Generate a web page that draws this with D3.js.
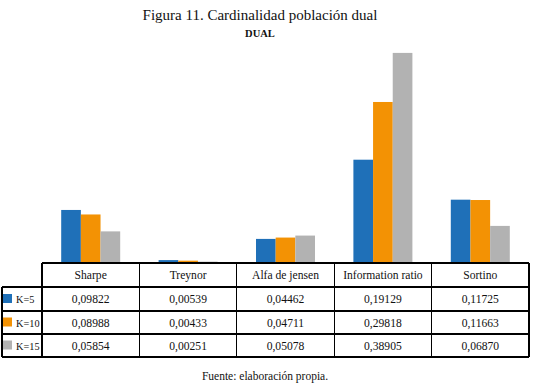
<!DOCTYPE html>
<html>
<head>
<meta charset="utf-8">
<style>
    body { margin: 0; background: #fff; }
    svg text { fill: #111; font-family: "Liberation Serif", "Times New Roman", serif; }
</style>
<script src="https://d3js.org/d3.v7.min.js"></script>
</head>
<body>
<div id="chart"></div>
<script>
    // data
    const categories = ['Sharpe', 'Treynor', 'Alfa de jensen', 'Information ratio', 'Sortino'];
    const seriesNames = ['K=5', 'K=10', 'K=15'];
    const k5  = [0.09822, 0.00539, 0.04462, 0.19129, 0.11725];
    const k10 = [0.08988, 0.00433, 0.04711, 0.29818, 0.11663];
    const k15 = [0.05854, 0.00251, 0.05078, 0.38905, 0.06870];
    const seriesValues = [k5, k10, k15];
    const colors = ['#1f70b8', '#f39204', '#b2b2b2'];

    const width = 536, height = 385;
    const fmt = v => d3.format('.5f')(v).replace('.', ',');

    const svg = d3.select('#chart').append('svg')
            .attr('width', width)
            .attr('height', height)
            .attr('font-family', '"Liberation Serif", serif');

    // titles
    svg.append('text')
            .attr('x', 260).attr('y', 20)
            .attr('text-anchor', 'middle')
            .style('font-size', '15px')
            .text('Figura 11. Cardinalidad población dual');
    svg.append('text')
            .attr('x', 260).attr('y', 37)
            .attr('text-anchor', 'middle')
            .style('font-size', '10.5px')
            .style('font-weight', 'bold')
            .text('DUAL');

    const tableLeft = 42, tableRight = 529, labelLeft = 2;
    const baseline = 263;
    const rowY = [263, 287, 311, 334, 357];

    const x = d3.scaleBand()
            .domain(categories)
            .range([tableLeft, tableRight]);

    const xs = d3.scaleBand()
            .domain(seriesNames)
            .range([0, 59]);

    const y = d3.scaleLinear()
            .domain([0, 0.45])
            .range([baseline, baseline - 243]);

    // bars
    const groups = svg.selectAll('g.grp')
            .data(categories)
            .enter().append('g')
            .attr('class', 'grp')
            .attr('transform', d => `translate(${x(d) + x.bandwidth() / 2 - 29.5},0)`);

    groups.selectAll('rect')
            .data((c, i) => seriesNames.map((s, j) => ({ s, j, v: seriesValues[j][i] })))
            .enter().append('rect')
            .attr('x', d => xs(d.s))
            .attr('width', xs.bandwidth())
            .attr('y', d => y(d.v))
            .attr('height', d => baseline - y(d.v))
            .attr('fill', d => colors[d.j]);

    // data table
    const grid = svg.append('g')
            .attr('stroke', '#000')
            .attr('stroke-width', 1.2)
            .attr('shape-rendering', 'crispEdges');

    grid.append('line').attr('x1', tableLeft).attr('x2', tableRight)
            .attr('y1', rowY[0]).attr('y2', rowY[0]);
    rowY.slice(1).forEach(yy => {
        grid.append('line').attr('x1', labelLeft).attr('x2', tableRight)
                .attr('y1', yy).attr('y2', yy);
    });
    grid.append('line').attr('x1', labelLeft).attr('x2', labelLeft)
            .attr('y1', rowY[1]).attr('y2', rowY[4]);
    categories.forEach(c => {
        grid.append('line').attr('x1', x(c)).attr('x2', x(c))
                .attr('y1', rowY[0]).attr('y2', rowY[4]);
    });
    grid.append('line').attr('x1', tableRight).attr('x2', tableRight)
            .attr('y1', rowY[0]).attr('y2', rowY[4]);

    // header
    svg.selectAll('text.hdr')
            .data(categories)
            .enter().append('text')
            .attr('class', 'hdr')
            .attr('x', d => x(d) + x.bandwidth() / 2)
            .attr('y', (rowY[0] + rowY[1]) / 2 + 4)
            .attr('text-anchor', 'middle')
            .style('font-family', '"Liberation Serif", serif')
            .style('font-size', '11.6px')
            .text(d => d);

    // rows
    seriesNames.forEach((s, j) => {
        const cy = (rowY[j + 1] + rowY[j + 2]) / 2;
        svg.append('rect')
                .attr('x', 3).attr('y', cy - 5)
                .attr('width', 9).attr('height', 9)
                .attr('fill', colors[j]);
        svg.append('text')
                .attr('x', 16).attr('y', cy + 4)
                .style('font-size', '10.3px')
                .text(s);
        categories.forEach((c, i) => {
            svg.append('text')
                    .attr('x', x(c) + x.bandwidth() / 2)
                    .attr('y', cy + 4)
                    .attr('text-anchor', 'middle')
                    .style('font-family', '"Liberation Serif", serif')
                    .style('font-size', '11.6px')
                    .text(fmt(seriesValues[j][i]));
        });
    });

    // source
    svg.append('text')
            .attr('x', 265).attr('y', 380)
            .attr('text-anchor', 'middle')
            .style('font-size', '11.5px')
            .text('Fuente: elaboración propia.');
</script>
</body>
</html>
